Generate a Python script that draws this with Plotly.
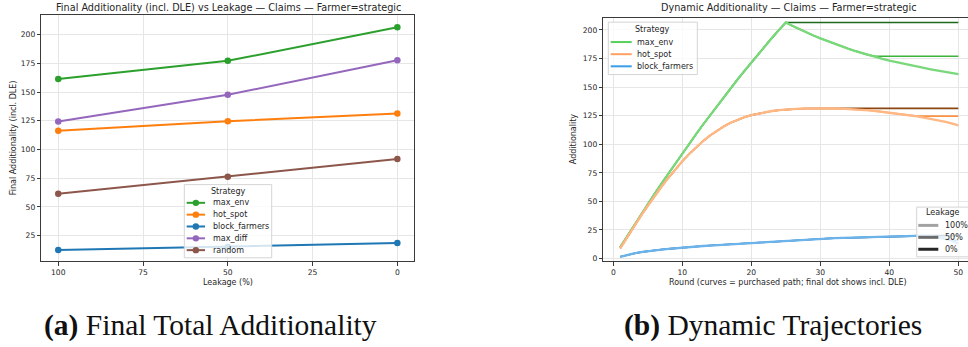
import plotly.graph_objects as go

# ---------------- Left panel: final additionality vs leakage ----------------
leakage_pct = [100, 50, 0]
strategies = ["max_env", "hot_spot", "block_farmers", "max_diff", "random"]
final_max_env = [161.5, 177.2, 206.4]
final_hot_spot = [116.3, 124.6, 131.3]
final_block_farmers = [12.5, 15.2, 18.5]
final_max_diff = [124.3, 147.6, 177.8]
final_random = [61.4, 76.3, 91.8]
final_values = {
    "max_env": final_max_env,
    "hot_spot": final_hot_spot,
    "block_farmers": final_block_farmers,
    "max_diff": final_max_diff,
    "random": final_random,
}
left_xticks = [100, 75, 50, 25, 0]
left_yticks = [25, 50, 75, 100, 125, 150, 175, 200]

# ---------------- Right panel: purchased-path trajectories ----------------
rounds = list(range(1, 51))
max_env_100 = [10.0, 19.6, 29.1, 38.4, 47.7, 56.8, 65.8, 74.6, 83.4, 92.0,
               100.5, 108.9, 117.2, 125.3, 133.3, 141.2, 149.0, 156.7, 164.2, 171.6,
               178.9, 186.1, 193.1, 200.0, 206.5, 203.5, 200.6, 197.8, 195.2, 192.7,
               190.3, 188.0, 185.8, 183.7, 181.7, 179.8, 178.0, 176.3, 174.7, 173.2,
               171.8, 170.5, 169.2, 168.0, 166.8, 165.6, 164.5, 163.4, 162.3, 161.3]
max_env_50 = [10.0, 19.6, 29.1, 38.4, 47.7, 56.8, 65.8, 74.6, 83.4, 92.0,
              100.5, 108.9, 117.2, 125.3, 133.3, 141.2, 149.0, 156.7, 164.2, 171.6,
              178.9, 186.1, 193.1, 200.0, 206.5, 203.5, 200.6, 197.8, 195.2, 192.7,
              190.3, 188.0, 185.8, 183.7, 181.7, 179.8, 178.0, 177.0, 177.0, 177.0,
              177.0, 177.0, 177.0, 177.0, 177.0, 177.0, 177.0, 177.0, 177.0, 177.0]
max_env_0 = [10.0, 19.6, 29.1, 38.4, 47.7, 56.8, 65.8, 74.6, 83.4, 92.0,
             100.5, 108.9, 117.2, 125.3, 133.3, 141.2, 149.0, 156.7, 164.2, 171.6,
             178.9, 186.1, 193.1, 200.0, 206.5, 206.5, 206.5, 206.5, 206.5, 206.5,
             206.5, 206.5, 206.5, 206.5, 206.5, 206.5, 206.5, 206.5, 206.5, 206.5,
             206.5, 206.5, 206.5, 206.5, 206.5, 206.5, 206.5, 206.5, 206.5, 206.5]

hot_spot_100 = [9.0, 18.8, 28.2, 37.3, 46.2, 54.8, 63.0, 70.8, 78.2, 85.1,
                91.5, 97.4, 102.8, 107.6, 111.9, 115.6, 118.8, 121.5, 123.7, 125.5,
                126.9, 128.1, 129.1, 129.9, 130.5, 130.9, 131.1, 131.3, 131.4, 131.4,
                131.4, 131.3, 131.1, 130.9, 130.6, 130.2, 129.7, 129.1, 128.4, 127.7,
                126.9, 126.1, 125.3, 124.4, 123.4, 122.3, 121.1, 119.7, 118.2, 116.5]
hot_spot_50 = [9.0, 18.8, 28.2, 37.3, 46.2, 54.8, 63.0, 70.8, 78.2, 85.1,
               91.5, 97.4, 102.8, 107.6, 111.9, 115.6, 118.8, 121.5, 123.7, 125.5,
               126.9, 128.1, 129.1, 129.9, 130.5, 130.9, 131.1, 131.3, 131.4, 131.4,
               131.4, 131.3, 131.1, 130.9, 130.6, 130.2, 129.7, 129.1, 128.4, 127.7,
               126.9, 126.1, 125.3, 124.6, 124.6, 124.6, 124.6, 124.6, 124.6, 124.6]
hot_spot_0 = [9.0, 18.8, 28.2, 37.3, 46.2, 54.8, 63.0, 70.8, 78.2, 85.1,
              91.5, 97.4, 102.8, 107.6, 111.9, 115.6, 118.8, 121.5, 123.7, 125.5,
              126.9, 128.1, 129.1, 129.9, 130.5, 130.9, 131.1, 131.3, 131.4, 131.4,
              131.4, 131.4, 131.4, 131.4, 131.4, 131.4, 131.4, 131.4, 131.4, 131.4,
              131.4, 131.4, 131.4, 131.4, 131.4, 131.4, 131.4, 131.4, 131.4, 131.4]

block_farmers_100 = [1.5, 3.2, 4.5, 5.6, 6.5, 7.2, 7.9, 8.5, 9.1, 9.6,
                     10.1, 10.6, 11.0, 11.4, 11.8, 12.2, 12.6, 13.0, 13.4, 13.8,
                     14.2, 14.6, 15.0, 15.3, 15.6, 16.0, 16.3, 16.6, 16.9, 17.2,
                     17.5, 17.8, 18.0, 18.3, 18.5, 18.7, 18.9, 19.1, 19.3, 19.5,
                     19.6, 19.8, 19.9, 20.0, 20.1, 19.8, 18.9, 17.5, 15.6, 13.2]
block_farmers_50 = [1.5, 3.2, 4.5, 5.6, 6.5, 7.2, 7.9, 8.5, 9.1, 9.6,
                    10.1, 10.6, 11.0, 11.4, 11.8, 12.2, 12.6, 13.0, 13.4, 13.8,
                    14.2, 14.6, 15.0, 15.3, 15.6, 16.0, 16.3, 16.6, 16.9, 17.2,
                    17.5, 17.8, 18.0, 18.3, 18.5, 18.7, 18.9, 19.1, 19.3, 19.5,
                    19.6, 19.8, 19.9, 20.0, 20.1, 19.8, 18.9, 17.5, 16.0, 16.0]
block_farmers_0 = [1.5, 3.2, 4.5, 5.6, 6.5, 7.2, 7.9, 8.5, 9.1, 9.6,
                   10.1, 10.6, 11.0, 11.4, 11.8, 12.2, 12.6, 13.0, 13.4, 13.8,
                   14.2, 14.6, 15.0, 15.3, 15.6, 16.0, 16.3, 16.6, 16.9, 17.2,
                   17.5, 17.8, 18.0, 18.3, 18.5, 18.7, 18.9, 19.1, 19.3, 19.5,
                   19.6, 19.8, 19.9, 20.0, 20.1, 20.1, 20.1, 20.1, 20.1, 20.1]

dyn_strategies = ["max_env", "hot_spot", "block_farmers"]
leakage_levels = ["100%", "50%", "0%"]
paths = {
    "max_env": {"100%": max_env_100, "50%": max_env_50, "0%": max_env_0},
    "hot_spot": {"100%": hot_spot_100, "50%": hot_spot_50, "0%": hot_spot_0},
    "block_farmers": {"100%": block_farmers_100, "50%": block_farmers_50, "0%": block_farmers_0},
}
right_xticks = [0, 10, 20, 30, 40, 50]
right_yticks = [0, 25, 50, 75, 100, 125, 150, 175, 200]

# ---------------- styling ----------------
FONT = "DejaVu Sans"
TEXT = "#262626"
AXIS = "#3a3a3a"
GRID = "#e6e6e6"
base_colors = {
    "max_env": "#2ca02c", "hot_spot": "#ff7f0e", "block_farmers": "#1f77b4",
    "max_diff": "#9467bd", "random": "#8c564b",
}
shade_colors = {
    "max_env": {"100%": "#79d879", "50%": "#3cb43c", "0%": "#1c6a1c"},
    "hot_spot": {"100%": "#ffb784", "50%": "#fb9444", "0%": "#8a4712"},
    "block_farmers": {"100%": "#6cb3ea", "50%": "#3a8fd6", "0%": "#1d5a8f"},
}
shade_widths = {"100%": 2.3, "50%": 1.6, "0%": 1.6}
dyn_legend_colors = {"max_env": "#58cf58", "hot_spot": "#ffa062", "block_farmers": "#3a9de8"}
leak_legend_colors = {"100%": "#a3a3a3", "50%": "#6b6b6b", "0%": "#262626"}

W, H = 968, 347


def fx(p):
    return p / W


def fy(p):
    return 1 - p / H


fig = go.Figure()

# left panel lines with markers
for s in strategies:
    fig.add_trace(go.Scatter(
        x=leakage_pct, y=final_values[s], mode="lines+markers", name=s,
        line=dict(color=base_colors[s], width=2),
        marker=dict(color=base_colors[s], size=6.5),
        xaxis="x", yaxis="y", showlegend=False,
    ))

# right panel: lower-leakage paths first, 100% drawn on top
for s in dyn_strategies:
    for lv in ["0%", "50%", "100%"]:
        fig.add_trace(go.Scatter(
            x=rounds, y=paths[s][lv], mode="lines", name=f"{s} {lv}",
            line=dict(color=shade_colors[s][lv], width=shade_widths[lv]),
            xaxis="x2", yaxis="y2", showlegend=False,
        ))

axis_common = dict(
    showgrid=True, gridcolor=GRID, gridwidth=0.8, zeroline=False,
    showline=True, linecolor=AXIS, linewidth=1,
    ticks="outside", ticklen=3.5, tickwidth=0.8, tickcolor=AXIS,
    tickfont=dict(family=FONT, size=7.6, color=TEXT),
)

fig.update_layout(
    width=W, height=H,
    margin=dict(l=0, r=0, t=0, b=0),
    paper_bgcolor="white", plot_bgcolor="white",
    showlegend=False,
    xaxis=dict(domain=[fx(41.3), fx(414.3)], range=[105, -5], tickvals=left_xticks,
               anchor="y", mirror=True, **axis_common),
    yaxis=dict(domain=[fy(263), fy(15)], range=[2.5, 217.2], tickvals=left_yticks,
               anchor="x", mirror=True, **axis_common),
    xaxis2=dict(domain=[fx(603.3), 1.0], range=[-1.45, 51.4], tickvals=right_xticks,
                anchor="y2", mirror=True, **axis_common),
    yaxis2=dict(domain=[fy(262.7), fy(18.3)], range=[-2.3, 210.3], tickvals=right_yticks,
                anchor="x2", mirror=False, **axis_common),
)

annotations = []
shapes = []


def text(x, y, s, size=8, xanchor="center", angle=0, family=FONT, color=TEXT):
    annotations.append(dict(
        x=fx(x), y=fy(y), xref="paper", yref="paper", text=s, showarrow=False,
        xanchor=xanchor, yanchor="middle", textangle=angle,
        font=dict(family=family, size=size, color=color),
    ))


# titles and axis labels
text(228, 7.5, "Final Additionality (incl. DLE) vs Leakage — Claims — Farmer=strategic", size=9.7)
text(228, 284, "Leakage (%)")
text(13, 139, "Final Additionality (incl. DLE)", angle=-90)
text(789, 7.5, "Dynamic Additionality — Claims — Farmer=strategic", size=9.7)
text(788, 284, "Round (curves = purchased path; final dot shows incl. DLE)")
text(573, 140, "Additionality", angle=-90)

# sub-figure captions
text(210.5, 327, "<b>(a)</b> Final Total Additionality", size=29.5, family="Liberation Serif", color="#111")
text(773, 327, "<b>(b)</b> Dynamic Trajectories", size=29.5, family="Liberation Serif", color="#111")


def legend_box(x0, y0, x1, y1):
    shapes.append(dict(type="rect", xref="paper", yref="paper",
                       x0=fx(x0), x1=fx(x1), y0=fy(y1), y1=fy(y0),
                       line=dict(color="#d4d4d4", width=1),
                       fillcolor="rgba(255,255,255,0.8)", layer="above"))


def handle(x0, x1, y, color, width=2, dot=False):
    shapes.append(dict(type="line", xref="paper", yref="paper",
                       x0=fx(x0), x1=fx(x1), y0=fy(y), y1=fy(y),
                       line=dict(color=color, width=width), layer="above"))
    if dot:
        cx, r = (x0 + x1) / 2, 3.2
        shapes.append(dict(type="circle", xref="paper", yref="paper",
                           x0=fx(cx - r), x1=fx(cx + r), y0=fy(y + r), y1=fy(y - r),
                           line=dict(width=0), fillcolor=color, layer="above"))


# left legend (Strategy)
legend_box(184.3, 185.7, 271.7, 259.3)
text(228, 192.3, "Strategy")
for i, s in enumerate(strategies):
    y = 204 + i * 11.9
    handle(186.7, 205, y, base_colors[s], dot=True)
    text(210.7, y, s, xanchor="left")

# right legend (Strategy)
legend_box(608.3, 22.3, 697.3, 75)
text(652.7, 30, "Strategy")
for i, s in enumerate(dyn_strategies):
    y = 42.3 + i * 12.2
    handle(610.7, 631.7, y, dyn_legend_colors[s])
    text(635, y, s, xanchor="left")

# right legend (Leakage)
legend_box(916.7, 208.3, 975, 258.3)
text(943.3, 214, "Leakage")
for i, lv in enumerate(leakage_levels):
    y = 226.7 + i * 12
    handle(918.3, 938.3, y, leak_legend_colors[lv], width=3)
    text(943.3, y, lv, xanchor="left")

fig.update_layout(annotations=annotations, shapes=shapes)
fig.write_html("out.html")
